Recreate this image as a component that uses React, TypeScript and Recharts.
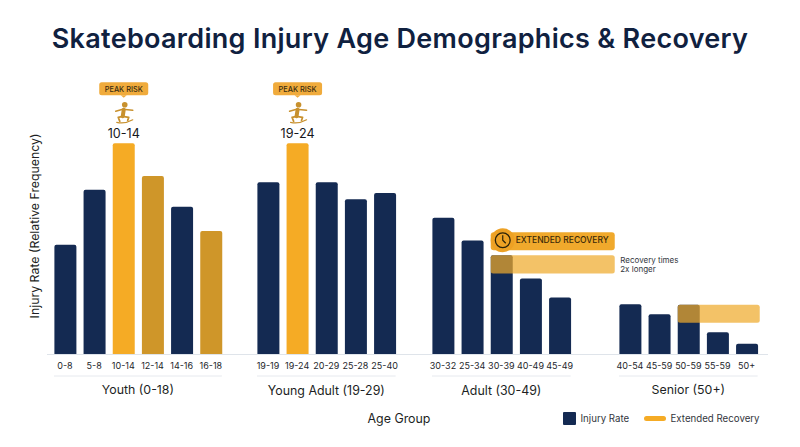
import React from "react";
import { BarChart, Bar, XAxis, YAxis, Cell, LabelList } from "recharts";

const youthAges = ["0-8", "5-8", "10-14", "12-14", "14-16", "16-18"];
const youthRates = [52, 78, 100, 84.5, 70, 58.5];
const youngAges = ["19-19", "19-24", "20-29", "25-28", "25-40"];
const youngRates = [81.5, 100, 81.5, 73.5, 76.5];
const adultAges = ["30-32", "25-34", "30-39", "40-49", "45-49"];
const adultRates = [64.7, 54, 47, 36, 27];
const adultRecovery = [null, null, [38.3, 47], null, null];
const seniorAges = ["40-54", "45-59", "50-59", "55-59", "50+"];
const seniorRates = [23.8, 19, 23.6, 10.5, 5.1];
const seniorRecovery = [null, null, [15, 23.6], null, null];

const peakAges = ["10-14", "19-24"];
const mutedAges = ["12-14", "16-18"];

const NAVY = "#142a52";
const GOLD = "#f5ab25";
const MUTED = "#cf9629";
const FONT = "Inter, 'Open Sans', sans-serif";
const SLOT = 29.17;

const barColor = (age: string) => {
  if (peakAges.includes(age)) return GOLD;
  if (mutedAges.includes(age)) return MUTED;
  return NAVY;
};

const PeakMark = ({ x, y, width, value }: any) => {
  if (!peakAges.includes(value)) return null;
  const cx = x + width / 2;
  return (
    <g transform={`translate(${cx},${y})`} fontFamily={FONT}>
      <text y={-10} textAnchor="middle" dominantBaseline="central" fontSize={12.6} fill="#17181c">
        {value}
      </text>
      <g stroke="#c8912e" strokeLinecap="round" strokeLinejoin="round" fill="none">
        <circle cx={1} cy={-38.5} r={2.8} fill="#c8912e" stroke="none" />
        <path d="M0,-33.5 L-1,-27" strokeWidth={4} />
        <path d="M-8,-32 L-1,-34 L9,-33" strokeWidth={1.5} />
        <path d="M-1,-27 L-5.5,-26 L-4,-22 M-1,-27 L5,-26 L4,-23" strokeWidth={1.8} />
        <path d="M-7,-21 Q1,-19 9,-23.5" strokeWidth={1.2} />
      </g>
      <rect x={-24.5} y={-61} width={49} height={13} rx={2.5} fill="#f0ab3c" />
      <path d="M-3,-48 L0,-45.5 L3,-48 Z" fill="#f0ab3c" />
      <text y={-54.3} textAnchor="middle" dominantBaseline="central" fontSize={7.4} fontWeight={500} fill="#3a2c10">
        PEAK RISK
      </text>
    </g>
  );
};

const RecoveryBand = ({ x, y, width, height, reach, callout }: any) => {
  if (!height) return null;
  return (
    <g fontFamily={FONT}>
      <rect x={x} y={y} width={width + reach} height={height} rx={2.5} fill="#efaa2c" fillOpacity={0.72} />
      {callout && (
        <g>
          <rect x={x} y={y - 23} width={124} height={18} rx={3} fill="#f0a92c" />
          <circle cx={x + 12} cy={y - 15} r={12} fill="#eda124" />
          <circle cx={x + 12} cy={y - 15} r={7.4} fill="none" stroke="#2b2208" strokeWidth={1.3} />
          <path d={`M${x + 12},${y - 20} V${y - 15} L${x + 15},${y - 12}`} fill="none" stroke="#2b2208" strokeWidth={1.2} />
          <text x={x + 25} y={y - 15} dominantBaseline="central" fontSize={8.5} fontWeight={500} fill="#3b2a08">
            EXTENDED RECOVERY
          </text>
          <text x={x + 129.5} y={y + 5} dominantBaseline="central" fontSize={8} fill="#33363d">
            Recovery times
          </text>
          <text x={x + 129.5} y={y + 14} dominantBaseline="central" fontSize={8} fill="#33363d">
            2x longer
          </text>
        </g>
      )}
    </g>
  );
};

const GroupCaption = ({ text, from, to }: any) => (
  <g fontFamily={FONT}>
    <line x1={from} x2={to} y1={376} y2={376} stroke="#e6e9ee" />
    <text x={(from + to) / 2} y={390} textAnchor="middle" dominantBaseline="central" fontSize={12.4} fill="#1d1f24">
      {text}
    </text>
  </g>
);

const GroupChart = ({ ages, rates, recovery, title, left, padLeft, padRight, tail = 0, reach = 0, callout = false }: any) => {
  const rows = ages.map((age: string, i: number) => ({
    age,
    rate: rates[i],
    recovery: recovery ? recovery[i] : null,
  }));
  const plotWidth = ages.length * SLOT + padLeft + padRight;
  const inset = (SLOT - 22) / 2;
  return (
    <div style={{ position: "absolute", left, top: 0 }}>
      <BarChart
        width={plotWidth + tail}
        height={447}
        data={rows}
        barSize={22}
        barGap={-22}
        margin={{ top: 143.3, right: tail, bottom: 62.5, left: 0 }}
      >
        <YAxis hide domain={[0, 100]} />
        <XAxis
          dataKey="age"
          interval={0}
          height={30}
          padding={{ left: padLeft, right: padRight }}
          axisLine={{ stroke: "#dfe4ea" }}
          tickLine={false}
          tickMargin={2}
          tick={{ fontSize: 9, fill: "#24262b", fontFamily: FONT }}
          label={
            <GroupCaption
              text={title}
              from={padLeft + inset}
              to={padLeft + ages.length * SLOT - inset}
            />
          }
        />
        <Bar dataKey="rate" radius={[2, 2, 0, 0]} isAnimationActive={false}>
          {rows.map((row: any) => (
            <Cell key={row.age} fill={barColor(row.age)} />
          ))}
          <LabelList dataKey="age" content={PeakMark} />
        </Bar>
        {recovery && (
          <Bar
            dataKey="recovery"
            isAnimationActive={false}
            shape={(props: any) => <RecoveryBand {...props} reach={reach} callout={callout} />}
          />
        )}
      </BarChart>
    </div>
  );
};

export default function App() {
  return (
    <div
      style={{
        position: "absolute",
        left: 0,
        top: 0,
        width: 800,
        height: 447,
        overflow: "hidden",
        background: "#fff",
        fontFamily: FONT,
      }}
    >
      <div
        style={{
          position: "absolute",
          top: 21,
          width: 800,
          textAlign: "center",
          fontSize: 27,
          fontWeight: 600,
          letterSpacing: 0.3,
          whiteSpace: "nowrap",
          color: "#10213f",
          lineHeight: "36px",
        }}
      >
        Skateboarding Injury Age Demographics &amp; Recovery
      </div>
      <div
        style={{
          position: "absolute",
          left: 33.5,
          top: 226,
          transform: "translate(-50%,-50%) rotate(-90deg)",
          whiteSpace: "nowrap",
          fontSize: 12.3,
          color: "#1d1f24",
        }}
      >
        Injury Rate (Relative Frequency)
      </div>
      <GroupChart ages={youthAges} rates={youthRates} title="Youth (0-18)" left={47} padLeft={3.4} padRight={14.6} />
      <GroupChart ages={youngAges} rates={youngRates} title="Young Adult (19-29)" left={239.4} padLeft={14.4} padRight={15} />
      <GroupChart
        ages={adultAges}
        rates={adultRates}
        recovery={adultRecovery}
        title="Adult (30-49)"
        left={413.6}
        padLeft={14.4}
        padRight={21}
        tail={90}
        reach={102}
        callout
      />
      <GroupChart
        ages={seniorAges}
        rates={seniorRates}
        recovery={seniorRecovery}
        title="Senior (50+)"
        left={594.6}
        padLeft={20.4}
        padRight={7.2}
        reach={60}
      />
      <div style={{ position: "absolute", left: 399, top: 418, transform: "translate(-50%,-50%)", fontSize: 12.4, color: "#1d1f24" }}>
        Age Group
      </div>
      <div
        style={{
          position: "absolute",
          left: 563,
          top: 412,
          display: "flex",
          alignItems: "center",
          height: 13,
          fontSize: 9.7,
          color: "#33363d",
          whiteSpace: "nowrap",
        }}
      >
        <span style={{ width: 12.5, height: 12.5, background: NAVY, borderRadius: 1, marginRight: 5 }} />
        <span style={{ width: 63 }}>Injury Rate</span>
        <span style={{ width: 22, height: 5, background: GOLD, borderRadius: 2.5, marginRight: 5 }} />
        <span>Extended Recovery</span>
      </div>
    </div>
  );
}
